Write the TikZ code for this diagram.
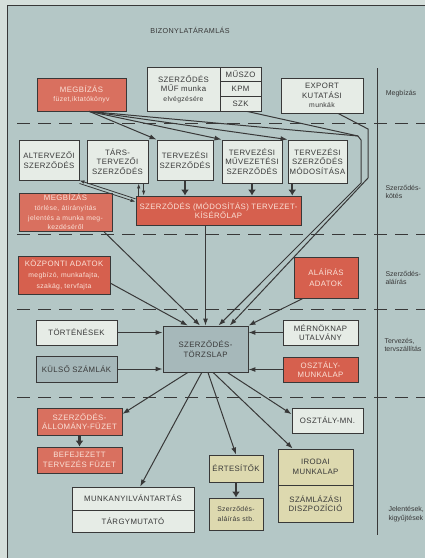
\documentclass[tikz,border=0pt]{standalone}
\usepackage{fontspec}
\setmainfont{Liberation Sans}
\newfontfamily\boxfont{Liberation Sans}[LetterSpace=5]
\usepackage{tikz}
\usetikzlibrary{arrows.meta}
\definecolor{paper}{HTML}{D5DFDB}
\definecolor{panel}{HTML}{B4C7C6}
\definecolor{ink}{HTML}{383838}
\definecolor{boxlight}{HTML}{E6ECE6}
\definecolor{boxred}{HTML}{D6604E}
\definecolor{boxdot}{HTML}{D9705F}
\definecolor{boxgray}{HTML}{A6B8BA}
\definecolor{boxyel}{HTML}{DDD9AF}
\definecolor{redtext}{HTML}{FBE2D8}
\newcommand{\smalltxt}[1]{{\fontsize{6.8}{8.2}\selectfont #1}}
\tikzset{
    borderline/.style={draw=ink, line width=0.8pt},
    doc/.style={draw=ink, line width=0.9pt, align=center, inner sep=1pt, text=ink,
        font=\boxfont\fontsize{7.8}{9.6}\selectfont},
    lightbox/.style={doc, fill=boxlight},
    redbox/.style={doc, fill=boxred, text=redtext},
    dotbox/.style={doc, fill=boxdot, text=redtext},
    graybox/.style={doc, fill=boxgray},
    yellowbox/.style={doc, fill=boxyel},
    sidelabel/.style={font=\fontsize{7}{8.6}\selectfont, text=ink, align=left, anchor=west},
    flowline/.style={->, draw=ink, line width=1pt},
    feedarrow/.style={->, draw=ink, line width=2.2pt, >={Latex[length=6pt, width=8pt]}},
    smallarrow/.style={draw=ink, line width=0.8pt, >={Latex[length=5pt, width=3.5pt]}}
}

\begin{document}
\begin{tikzpicture}[x=1pt, y=-1pt, >={Latex[length=7pt, width=5pt]}]
    \useasboundingbox (0,0) rectangle (425,558);
    \fill[paper] (0,0) rectangle (425,558);
    \fill[panel] (7,5) rectangle (425,558);
    \draw[borderline] (7,558) -- (7,5) -- (425,5);
    \foreach \y in {123,234,309,397}
        \draw[borderline, dash pattern=on 13pt off 8pt] (17,\y) -- (425,\y);
    \draw[borderline] (377,68) -- (377,535);

    \node[font=\boxfont\fontsize{7.2}{8}\selectfont, text=ink] (title) at (190,30) {BIZONYLATÁRAMLÁS};

    \node[sidelabel, anchor=center] (lmegb) at (401,94) {Megbízás};
    \node[sidelabel] (lkotes) at (382,192) {Szerződés-\\kötés};
    \node[sidelabel] (lalair) at (382,278) {Szerződés-\\aláírás};
    \node[sidelabel] (lterv) at (381,345) {Tervezés,\\tervszállítás};
    \node[sidelabel] (ljel) at (385,514) {Jelentések,\\kigyűjtések};

    \node[dotbox, minimum width=89, minimum height=33] (megb) at (81.5,94.5) {MEGBÍZÁS\\\smalltxt{füzet,iktatókönyv}};
    \node[lightbox, minimum width=73, minimum height=44] (szmuf) at (183.5,89) {SZERZŐDÉS\\MŰF munka\\\smalltxt{elvégzésére}};
    \node[lightbox, minimum width=41, minimum height=14.7] (muszo) at (240.5,74.3) {MŰSZO};
    \node[lightbox, minimum width=41, minimum height=14.7] (kpm) at (240.5,89) {KPM};
    \node[lightbox, minimum width=41, minimum height=14.7] (szk) at (240.5,103.7) {SZK};
    \node[lightbox, minimum width=82, minimum height=35] (export) at (322,95.5) {EXPORT\\KUTATÁSI\\\smalltxt{munkák}};

    \node[lightbox, minimum width=60, minimum height=40] (alterv) at (49,160) {ALTERVEZŐI\\SZERZŐDÉS};
    \node[lightbox, minimum width=61, minimum height=43] (tars) at (117.5,161.5) {TÁRS-\\TERVEZŐI\\SZERZŐDÉS};
    \node[lightbox, minimum width=56, minimum height=40] (tervsz) at (185,160) {TERVEZÉSI\\SZERZŐDÉS};
    \node[lightbox, minimum width=60, minimum height=43] (muvez) at (252,161.5) {TERVEZÉSI\\MŰVEZETÉSI\\SZERZŐDÉS};
    \node[lightbox, minimum width=59, minimum height=43] (modos) at (317.5,161.5) {TERVEZÉSI\\SZERZŐDÉS\\MÓDOSÍTÁSA};
    \node[dotbox, minimum width=93, minimum height=38] (megb2) at (65.5,212) {MEGBÍZÁS\\\smalltxt{törlése, átirányítás}\\\smalltxt{jelentés a munka meg-}\\\smalltxt{kezdéséről}};
    \node[redbox, minimum width=165, minimum height=29] (kiser) at (218.5,210.5) {SZERZŐDÉS (MÓDOSÍTÁS) TERVEZET-\\KÍSÉRŐLAP};

    \node[redbox, minimum width=92, minimum height=38] (kozp) at (64,275) {KÖZPONTI ADATOK\\[1pt]\smalltxt{megbízó, munkafajta,}\\[1pt]\smalltxt{szakág, tervfajta}};
    \node[redbox, minimum width=64, minimum height=41] (alair) at (326,277.5) {ALÁÍRÁS\\[2pt]ADATOK};

    \node[lightbox, minimum width=81, minimum height=25] (tort) at (76.5,332.5) {TÖRTÉNÉSEK};
    \node[graybox, minimum width=81, minimum height=26] (kulso) at (76.5,369) {KÜLSŐ SZÁMLÁK};
    \node[graybox, minimum width=85, minimum height=46] (torzs) at (205.5,349) {SZERZŐDÉS-\\TÖRZSLAP};
    \node[lightbox, minimum width=75, minimum height=25] (mernok) at (320.5,332.5) {MÉRNÖKNAP\\UTALVÁNY};
    \node[redbox, minimum width=75, minimum height=25] (osztm) at (320.5,369.5) {OSZTÁLY-\\MUNKALAP};

    \node[dotbox, minimum width=85, minimum height=27] (allom) at (79.5,421.5) {SZERZŐDÉS-\\ÁLLOMÁNY-FÜZET};
    \node[dotbox, minimum width=85, minimum height=26] (befej) at (79.5,460) {BEFEJEZETT\\TERVEZÉS FÜZET};
    \node[lightbox, minimum width=71, minimum height=25] (osztmn) at (327.5,420.5) {OSZTÁLY-MN.};
    \node[yellowbox, minimum width=75, minimum height=36] (irodai) at (315.5,467) {IRODAI\\MUNKALAP};
    \node[yellowbox, minimum width=75, minimum height=37] (szamlaz) at (315.5,503.5) {SZÁMLÁZÁSI\\DISZPOZÍCIÓ};
    \node[yellowbox, minimum width=54, minimum height=27] (ertes) at (236,468.5) {ÉRTESÍTŐK};
    \node[yellowbox, minimum width=54, minimum height=32] (szalair) at (236,514) {\smalltxt{Szerződés-}\\\smalltxt{aláírás stb.}};
    \node[lightbox, minimum width=122, minimum height=23] (munkany) at (133,498.5) {MUNKANYILVÁNTARTÁS};
    \node[lightbox, minimum width=122, minimum height=22] (targy) at (133,521) {TÁRGYMUTATÓ};

    \coordinate (jn) at (358,136);
    \draw[flowline] (megb.-65) -- (tervsz.north west);
    \draw[flowline] (megb.-65) -- (muvez.north west);
    \draw[flowline] (megb.-65) -- (modos.north west);
    \draw[borderline, line width=1pt] (megb.-65) -- (jn);
    \draw[borderline, line width=1pt] (szk.-48) -- (jn);
    \draw[flowline] (jn) -- (361,140) -- (361,183) -- (torzs.61);
    \draw[flowline] (export.-48) -- (368,129) -- (368,178) -- (torzs.44);

    \draw[feedarrow] (tervsz.south) -- (tervsz.south |- kiser.north);
    \draw[feedarrow] (muvez.south) -- (muvez.south |- kiser.north);
    \draw[feedarrow] (modos.-139) -- (modos.-139 |- kiser.north);
    \draw[smallarrow, <-] (tars.-46) -- (tars.-46 |- kiser.north);
    \draw[smallarrow, ->] (tars.-40) -- (tars.-40 |- kiser.north);
    \draw[smallarrow, <-] (alterv.south east) -- (kiser.172);
    \draw[smallarrow, ->] ([yshift=-3pt]alterv.south east) -- ([yshift=-3pt]kiser.172);

    \draw[flowline] (kiser.south -| torzs.north) -- (torzs.north);
    \draw[flowline] (megb2.-27) -- (torzs.103);
    \draw[flowline] (kozp.-10) -- (torzs.127);
    \draw[flowline] (alair.-138) -- (torzs.north east);
    \draw[flowline] (tort.east) -- (tort.east -| torzs.west);
    \draw[flowline] (kulso.east) -- (kulso.east -| torzs.west);
    \draw[flowline] (mernok.west) -- (mernok.west -| torzs.east);
    \draw[flowline] (osztm.west) -- (osztm.west -| torzs.east);

    \draw[flowline] (torzs.-127) -- (allom.10);
    \draw[flowline] (torzs.-99) -- (munkany.59);
    \draw[flowline] (torzs.-84) -- (ertes.north);
    \draw[flowline] (torzs.-72) -- (irodai.141);
    \draw[flowline] (torzs.-47) -- (osztmn.170);
    \draw[feedarrow] (allom.south) -- (befej.north);
    \draw[feedarrow] (ertes.south) -- (szalair.north);
\end{tikzpicture}
\end{document}
